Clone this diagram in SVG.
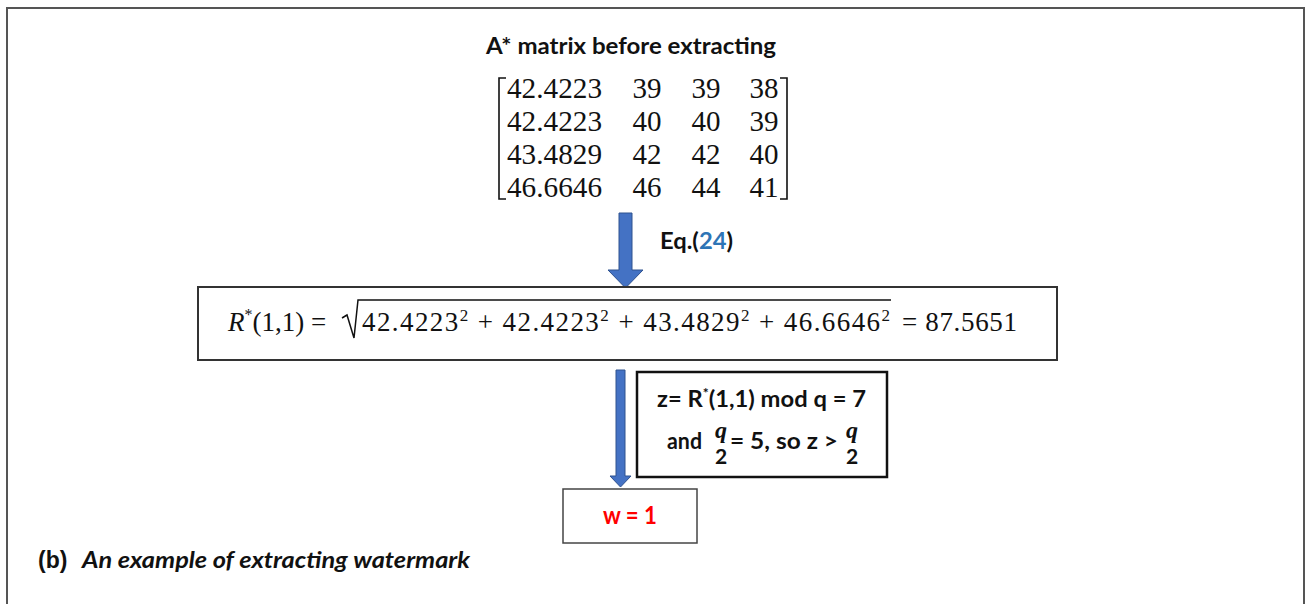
<svg xmlns="http://www.w3.org/2000/svg" width="1306" height="604" viewBox="0 0 1306 604">
<style>
.sans{font-family:Lato,"Liberation Sans",sans-serif;font-weight:bold;fill:#111}
.math{font-family:"Liberation Serif",serif;fill:#111}
.box{fill:#fff;stroke:#333;stroke-width:2}
.arrow{fill:#4472C4;stroke:#2F528F;stroke-width:1}
</style>
<rect x="0" y="0" width="1306" height="604" fill="#fff"/>
<rect id="frame" x="7" y="8" width="1297" height="620" fill="none" stroke="#555" stroke-width="2"/>

<g id="title">
<text class="sans" x="631" y="54" font-size="23" text-anchor="middle" textLength="290" lengthAdjust="spacingAndGlyphs">A* matrix before extracting</text>
</g>

<g id="matrix" class="math" font-size="29">
<path d="M506,78 H499 V199 H506 M780,78 H787 V199 H780" fill="none" stroke="#111" stroke-width="1.6"/>
<text x="507" y="98" textLength="95" lengthAdjust="spacingAndGlyphs">42.4223</text>
<text x="507" y="131" textLength="95" lengthAdjust="spacingAndGlyphs">42.4223</text>
<text x="507" y="164" textLength="95" lengthAdjust="spacingAndGlyphs">43.4829</text>
<text x="507" y="197" textLength="95" lengthAdjust="spacingAndGlyphs">46.6646</text>
<g text-anchor="middle">
<text x="647" y="98">39</text><text x="706" y="98">39</text><text x="764" y="98">38</text>
<text x="647" y="131">40</text><text x="706" y="131">40</text><text x="764" y="131">39</text>
<text x="647" y="164">42</text><text x="706" y="164">42</text><text x="764" y="164">40</text>
<text x="647" y="197">46</text><text x="706" y="197">44</text><text x="764" y="197">41</text>
</g>
</g>

<g id="connectors">
<polygon class="arrow" points="619,213 632,213 632,270 643,270 625.5,288 608,270 619,270"/>
<polygon class="arrow" points="616,370 625,370 625,476 631,476 620.5,487 610,476 616,476"/>
</g>

<g id="eq-label">
<text class="sans" x="660" y="249" font-size="22" textLength="73" lengthAdjust="spacingAndGlyphs">Eq.(<tspan fill="#2E75B6">24</tspan>)</text>
</g>

<g id="formula-box">
<rect class="box" x="198" y="287" width="859" height="73"/>
<g class="math" font-size="27">
<text x="228" y="331"><tspan font-style="italic">R</tspan><tspan font-size="16" dy="-11">*</tspan><tspan dy="11">(1,1) =</tspan></text>
<path d="M342,318 L347,315 L354,338 L358,300 H891" fill="none" stroke="#111" stroke-width="1.5"/>
<text x="362" y="331" textLength="528" lengthAdjust="spacing">42.4223<tspan font-size="17" dy="-10">2</tspan><tspan dy="10"> + 42.4223</tspan><tspan font-size="17" dy="-10">2</tspan><tspan dy="10"> +  43.4829</tspan><tspan font-size="17" dy="-10">2</tspan><tspan dy="10"> + 46.6646</tspan><tspan font-size="17" dy="-10">2</tspan></text>
<text x="902" y="331" textLength="115" lengthAdjust="spacing">= 87.5651</text>
</g>
</g>

<g id="condition-box">
<rect x="637" y="372" width="250" height="105" fill="#fff" stroke="#111" stroke-width="2.5"/>
<text class="sans" x="657" y="407" font-size="22" textLength="209" lengthAdjust="spacingAndGlyphs">z= R<tspan font-size="13" dy="-9">*</tspan><tspan dy="9">(1,1) mod q = 7</tspan></text>
<text class="sans" x="667" y="449" font-size="22" textLength="35" lengthAdjust="spacingAndGlyphs">and</text>
<text class="math" x="721" y="438" font-size="24" font-style="italic" font-weight="bold" text-anchor="middle">q</text>
<text class="sans" x="721" y="464" font-size="21" text-anchor="middle">2</text>
<text class="sans" x="730" y="449" font-size="22" textLength="108" lengthAdjust="spacingAndGlyphs">= 5, so z &gt;</text>
<text class="math" x="852" y="438" font-size="24" font-style="italic" font-weight="bold" text-anchor="middle">q</text>
<text class="sans" x="852" y="464" font-size="21" text-anchor="middle">2</text>
</g>

<g id="w-box">
<rect x="563" y="489" width="134" height="54" fill="#fff" stroke="#444" stroke-width="1.5"/>
<text class="sans" x="630" y="524" font-size="24" style="fill:#FF0000" text-anchor="middle" textLength="54" lengthAdjust="spacingAndGlyphs">w = 1</text>
</g>

<g id="caption">
<text x="38" y="568" font-family="'Liberation Sans',Arial,sans-serif" font-weight="bold" font-size="23" fill="#111">(b)</text>
<text class="sans" x="82" y="568" font-size="22.5" font-style="italic" textLength="388" lengthAdjust="spacingAndGlyphs">An example of extracting watermark</text>
</g>
</svg>
